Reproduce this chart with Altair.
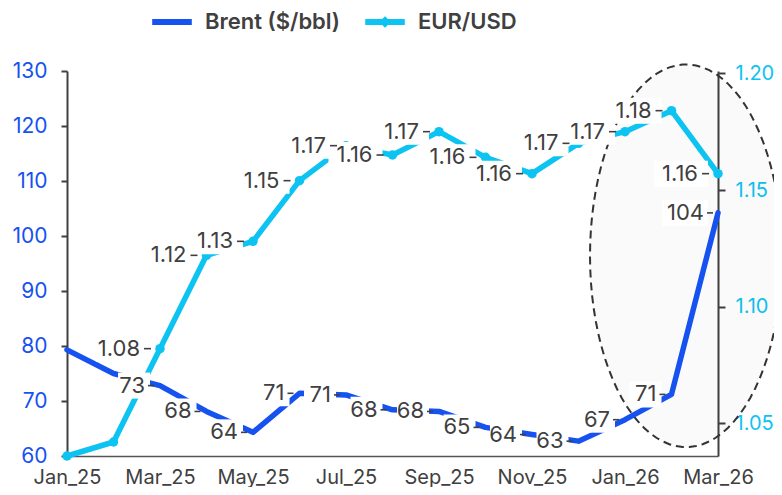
import math
import altair as alt
import pandas as pd

# ---------------- data ----------------
months = ["Jan_25", "Feb_25", "Mar_25", "Apr_25", "May_25", "Jun_25", "Jul_25",
          "Aug_25", "Sep_25", "Oct_25", "Nov_25", "Dec_25", "Jan_26", "Feb_26", "Mar_26"]
brent = [79.3, 75.0, 72.8, 68.1, 64.3, 71.4, 71.1, 68.4, 68.1, 65.2, 63.9, 62.7, 66.6, 71.2, 104.2]
eurusd = [1.036, 1.042, 1.082, 1.122, 1.128, 1.154, 1.169, 1.165, 1.175, 1.164, 1.157, 1.170, 1.175, 1.184, 1.157]
brent_labels = ["", "", "73", "68", "64", "71", "71", "68", "68", "65", "64", "63", "67", "71", "104"]
eur_labels = ["", "", "1.08", "1.12", "1.13", "1.15", "1.17", "1.16", "1.17", "1.16", "1.16", "1.17", "1.17", "1.18", "1.16"]
x_tick_labels = ["Jan_25", "Mar_25", "May_25", "Jul_25", "Sep_25", "Nov_25", "Jan_26", "Mar_26"]
brent_ticks = [60, 70, 80, 90, 100, 110, 120, 130]
eur_ticks = [1.05, 1.10, 1.15, 1.20]
brent_name = "Brent ($/bbl)"
eur_name = "EUR/USD"
# highlighted region (dashed ellipse) anchor
highlight_month = ["Feb_26"]
highlight_brent = [96.4]

# ---------------- styles ----------------
FONT = "Inter"
BLUE = "#1652F0"
CYAN = "#0DC3F2"
TEXT = "#404040"
AXIS = "#404040"
BRENT_DOMAIN = [60, 130]
EUR_DOMAIN = [1.036, 1.201]

df = pd.DataFrame({
    "month": months,
    "brent": brent,
    "eur": eurusd,
    "brent_label": brent_labels,
    "eur_label": eur_labels,
})
df["brent_series"] = brent_name
df["eur_series"] = eur_name

hl = pd.DataFrame({"month": highlight_month, "brent": highlight_brent})

x_enc = alt.X(
    "month:O", sort=months, title=None,
    scale=alt.Scale(type="point", padding=0),
    axis=alt.Axis(values=x_tick_labels, labelAngle=0, ticks=False, grid=False,
                  domainColor="#555555", domainWidth=1.5,
                  labelColor=TEXT, labelFont=FONT, labelFontSize=20, labelPadding=11),
)


def y_brent(axis=None):
    return alt.Y("brent:Q", title=None, axis=axis,
                 scale=alt.Scale(domain=BRENT_DOMAIN, nice=False, zero=False))


def y_eur(axis=None):
    return alt.Y("eur:Q", title=None, axis=axis,
                 scale=alt.Scale(domain=EUR_DOMAIN, nice=False, zero=False))


base = alt.Chart(df)

# dashed highlight ellipse
RX, RY = 96.0, 191.3
pts = [(RX / RY * math.cos(2 * math.pi * k / 90), math.sin(2 * math.pi * k / 90)) for k in range(90)]
ellipse_path = "M" + " L".join(f"{px:.4f},{py:.4f}" for px, py in pts) + " Z"
ellipse = alt.Chart(hl).mark_point(
    shape=ellipse_path, size=(2 * RY) ** 2, filled=True, fill="#000000", fillOpacity=0.02,
    stroke="#333333", strokeWidth=2, strokeDash=[8, 5], opacity=1, xOffset=14.5,
).encode(x=x_enc, y=y_brent())

legend_common = dict(orient="none", legendY=-61, title=None, padding=0,
                     symbolSize=324, symbolStrokeWidth=6,
                     labelFont=FONT, labelFontSize=22, labelFontWeight=600,
                     labelColor=TEXT, labelOffset=21, labelLimit=300)

brent_line = base.mark_line(strokeWidth=5.5, strokeCap="round", strokeJoin="round").encode(
    x=x_enc,
    y=y_brent(alt.Axis(orient="left", values=brent_ticks, grid=False,
                       domainColor=AXIS, domainWidth=2, tickColor=AXIS, tickWidth=2, tickSize=6,
                       labelColor=BLUE, labelFont=FONT, labelFontSize=21, labelPadding=14)),
    color=alt.Color("brent_series:N", scale=alt.Scale(domain=[brent_name], range=[BLUE]),
                    legend=alt.Legend(legendX=93, symbolType="M-2.2,0L2.2,0", **legend_common)),
)

eur_line = base.mark_line(strokeWidth=5.5, strokeCap="round", strokeJoin="round").encode(
    x=x_enc,
    y=y_eur(alt.Axis(orient="right", values=eur_ticks, format=".2f", grid=False,
                     domainColor=AXIS, domainWidth=2, tickColor=AXIS, tickWidth=2, tickSize=7,
                     labelColor=CYAN, labelFont=FONT, labelFontSize=20, labelPadding=10)),
    color=alt.Color("eur_series:N", scale=alt.Scale(domain=[eur_name], range=[CYAN]),
                    legend=alt.Legend(legendX=306,
                                      symbolType="M-2.2,0L2.2,0M0,-0.18L0.18,0L0,0.18L-0.18,0Z",
                                      **legend_common)),
)

eur_points = base.mark_circle(size=90, color=CYAN, opacity=1).encode(x=x_enc, y=y_eur())

# label groups: (value field, label field, chars, box width, box centre offset, dash centre, dash width, text dx)
groups = [
    ("brent", "brent_label", 2, 32, -26, -9, 6, -15),
    ("brent", "brent_label", 3, 46, -33, -8, 6, -14),
    ("eur", "eur_label", 4, 54, -37, -12.5, 7, -20),
]
BOX_H = 26

boxes, dashes, texts = [], [], []
for field, lab, nch, bw, bc, dc, dw, tdx in groups:
    yfun = y_brent if field == "brent" else y_eur
    sub = base.transform_filter(f"length(datum.{lab}) == {nch}")
    h = BOX_H / bw
    box_path = f"M-1,{-h:.4f} L1,{-h:.4f} L1,{h:.4f} L-1,{h:.4f} Z"
    boxes.append(sub.mark_point(shape=box_path, size=bw * bw, filled=True, fill="white",
                                opacity=1, strokeWidth=0, xOffset=bc).encode(x=x_enc, y=yfun()))
    dashes.append(sub.mark_point(shape="M-1,0 L1,0", size=dw * dw, filled=False, stroke=TEXT,
                                 strokeWidth=1.6, opacity=1, xOffset=dc).encode(x=x_enc, y=yfun()))
    texts.append(sub.mark_text(align="right", baseline="middle", dx=tdx, font=FONT, fontSize=22,
                               color=TEXT).encode(x=x_enc, y=yfun(), text=f"{lab}:N"))

chart = alt.layer(ellipse, brent_line, eur_line, eur_points, *boxes, *dashes, *texts).resolve_scale(
    y="independent", color="independent"
).properties(
    width=651, height=385,
    autosize=alt.AutoSizeParams(type="none"),
    padding={"left": 59, "top": 63, "right": 56, "bottom": 31},
).configure_view(stroke=None)

chart.save("out.html", embed_options={"renderer": "svg", "actions": False})
